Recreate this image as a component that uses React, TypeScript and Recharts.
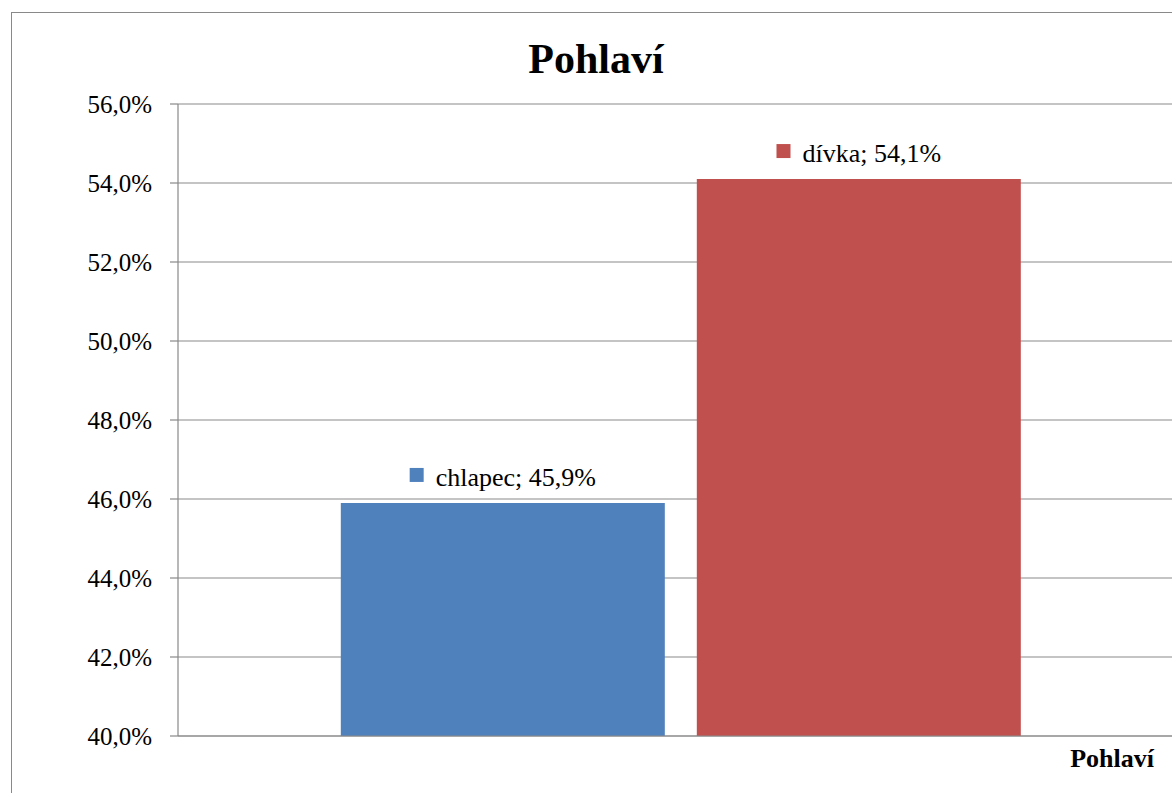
import { BarChart, Bar, XAxis, YAxis, CartesianGrid, LabelList } from "recharts";

// data
const categories = ["Pohlaví"];
const chlapecValues = [45.9];
const divkaValues = [54.1];
const yTicks = [40, 42, 44, 46, 48, 50, 52, 54, 56];

const data = categories.map((name, i) => ({
    name,
    chlapec: chlapecValues[i],
    divka: divkaValues[i],
}));

const FONT = "'Liberation Serif', 'Times New Roman', serif";
const GRAY = "#898989";

const fmt = (v: number) => v.toFixed(1).replace(".", ",") + "%";

let ctx: CanvasRenderingContext2D | null = null;
const measure = (text: string, size: number) => {
    if (!ctx) ctx = document.createElement("canvas").getContext("2d");
    if (!ctx) return text.length * size * 0.45;
    ctx.font = `${size}px 'Liberation Serif'`;
    return ctx.measureText(text).width;
};

// data label with a small legend key in front of it
const makeLabel = (seriesName: string, color: string) => (props: any) => {
    const { x, y, width, value } = props;
    const text = `${seriesName}; ${fmt(Number(value))}`;
    const tw = measure(text, 26);
    const total = 14 + 12 + tw;
    const left = x + width / 2 - total / 2;
    return (
        <g>
            <rect x={left} y={y - 35} width={14} height={14} fill={color} />
            <text
                x={left + 26}
                y={y - 17}
                fontFamily={FONT}
                fontSize={26}
                fill="#000"
            >
                {text}
            </text>
        </g>
    );
};

const AxisTitle = (props: any) => {
    const { viewBox } = props;
    return (
        <text
            x={viewBox.x + viewBox.width - 29}
            y={viewBox.y + 31}
            textAnchor="end"
            fontFamily={FONT}
            fontWeight="bold"
            fontSize={26}
            fill="#000"
        >
            Pohlaví
        </text>
    );
};

export default function App() {
    return (
        <div
            style={{
                position: "fixed",
                top: 0,
                left: 0,
                width: 1172,
                height: 793,
                overflow: "hidden",
                background: "#fff",
            }}
        >
            <div
                style={{
                    position: "absolute",
                    left: 11,
                    top: 12,
                    width: 1250,
                    height: 900,
                    border: `1.5px solid ${GRAY}`,
                }}
            />
            <div
                style={{
                    position: "absolute",
                    left: 0,
                    top: 38,
                    width: 1192,
                    textAlign: "center",
                    fontFamily: FONT,
                    fontWeight: "bold",
                    fontSize: 42,
                    lineHeight: "42px",
                }}
            >
                Pohlaví
            </div>
            <div style={{ position: "absolute", left: 0, top: 0 }}>
                <BarChart
                    width={1200}
                    height={793}
                    data={data}
                    margin={{ top: 104, right: 17, bottom: 0, left: 0 }}
                    barCategoryGap="16.2%"
                    barGap={32}
                >
                    <CartesianGrid
                        vertical={false}
                        stroke={GRAY}
                        strokeWidth={1.2}
                    />
                    <XAxis
                        dataKey="name"
                        height={57}
                        tick={false}
                        tickLine={false}
                        axisLine={{ stroke: GRAY, strokeWidth: 1.2 }}
                        label={<AxisTitle />}
                    />
                    <YAxis
                        width={178}
                        domain={[40, 56]}
                        ticks={yTicks}
                        allowDataOverflow
                        tickFormatter={fmt}
                        tickSize={8}
                        tickMargin={18}
                        tick={{ fontFamily: FONT, fontSize: 25, fill: "#000" }}
                        tickLine={{ stroke: GRAY, strokeWidth: 1.2 }}
                        axisLine={{ stroke: GRAY, strokeWidth: 1.2 }}
                    />
                    <Bar
                        dataKey="chlapec"
                        fill="#4F81BD"
                        isAnimationActive={false}
                    >
                        <LabelList
                            dataKey="chlapec"
                            content={makeLabel("chlapec", "#4F81BD")}
                        />
                    </Bar>
                    <Bar
                        dataKey="divka"
                        fill="#C0504D"
                        isAnimationActive={false}
                    >
                        <LabelList
                            dataKey="divka"
                            content={makeLabel("dívka", "#C0504D")}
                        />
                    </Bar>
                </BarChart>
            </div>
        </div>
    );
}
